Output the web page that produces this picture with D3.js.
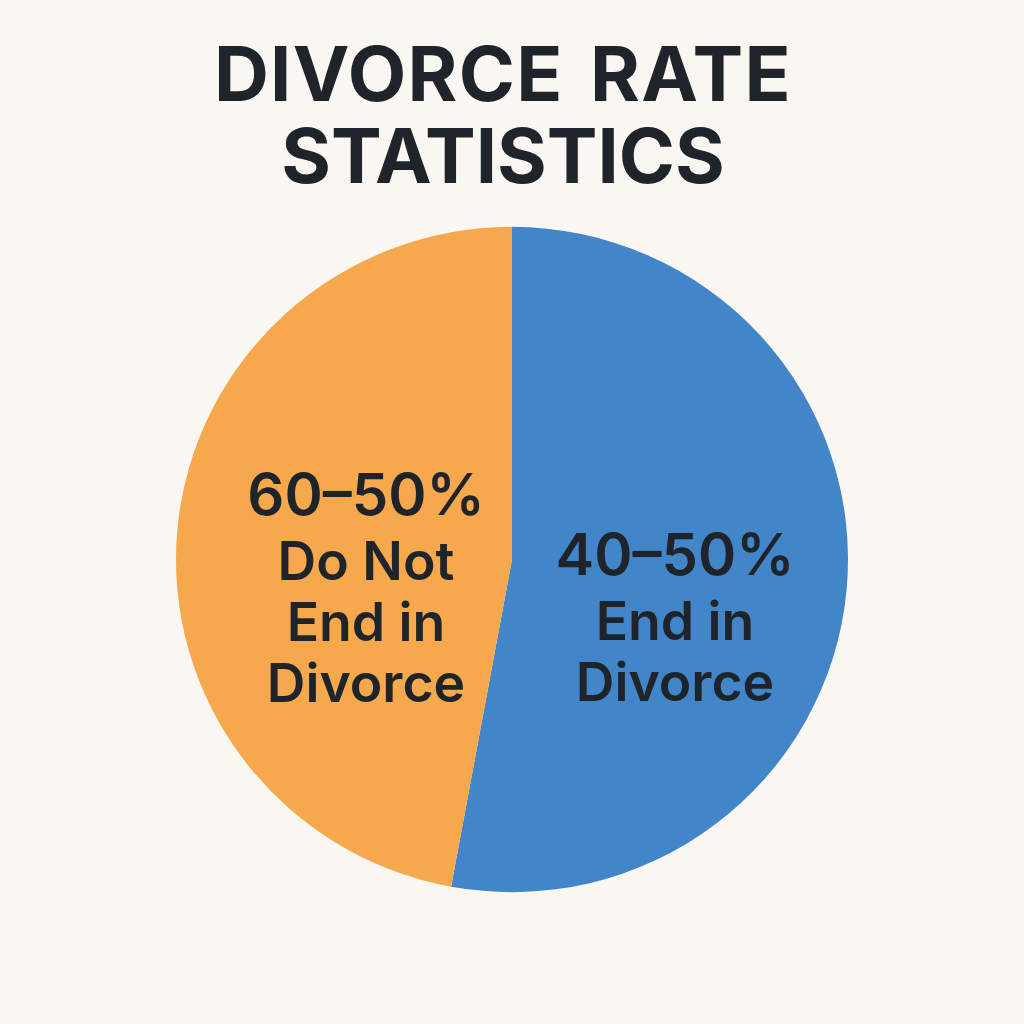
<!DOCTYPE html>
<html>
<head>
<meta charset="utf-8">
<script src="https://cdn.jsdelivr.net/npm/d3@7"></script>
<style>
html, body { margin: 0; padding: 0; background: #faf6f1; }
svg { display: block; }
text { font-family: Inter, "Liberation Sans", sans-serif; fill: #1e2429; text-anchor: middle; }
</style>
</head>
<body>
<script>
// Slice sizes, the labels are what the chart prints
var categories = ["End in Divorce", "Do Not End in Divorce"];
var shares = [52.9, 47.1];
var colours = ["#4286c9", "#f5a94c"];
var percentLabels = ["40–50%", "60–50%"];
var labelLines = [["End in", "Divorce"], ["Do Not", "End in", "Divorce"]];
var titleLines = ["DIVORCE RATE", "STATISTICS"];

var width = 1024,
    height = 1024,
    radius = 336,
    cx = 512,
    cy = 559.5;

var svg = d3.select("body")
    .append("svg")
    .attr("width", width)
    .attr("height", height);

// Title, the first line is set a little wider than the second
svg.append("g")
    .selectAll("text")
    .data(titleLines)
    .enter().append("text")
        .attr("x", 503)
        .attr("y", function(d, i) { return 101 + i * 82; })
        .attr("font-size", 76)
        .attr("font-weight", 700)
        .attr("letter-spacing", function(d, i) { return i == 0 ? 1.3 : 0; })
        .attr("word-spacing", 7)
        .text(function(d) { return d; });

// Pie, first slice starts at twelve o'clock and runs clockwise.
// The drawn circle is a touch flatter than it is wide.
var pie = d3.pie().sort(null);
var arc = d3.arc().innerRadius(0).outerRadius(radius);

var chart = svg.append("g")
    .attr("transform", "translate(" + cx + "," + cy + ") scale(1,0.99)");

chart.selectAll("path")
    .data(pie(shares))
    .enter().append("path")
        .attr("fill", function(d, i) { return colours[i]; })
        .attr("d", arc);

// Labels: percent line first, then the wrapped category
var labelX = [675, 366];
var labelTop = [575, 515];

var labels = svg.selectAll("g.label")
    .data(categories)
    .enter().append("g")
        .attr("class", "label");

labels.append("text")
    .attr("x", function(d, i) { return labelX[i]; })
    .attr("y", function(d, i) { return labelTop[i]; })
    .attr("font-size", 58)
    .attr("font-weight", 600)
    .text(function(d, i) { return percentLabels[i]; });

labels.each(function(d, i) {
    d3.select(this).selectAll("text.sub")
        .data(labelLines[i])
        .enter().append("text")
            .attr("class", "sub")
            .attr("x", labelX[i])
            .attr("y", function(t, j) { return labelTop[i] + 65 + j * 61; })
            .attr("font-size", 53.5)
            .attr("font-weight", 600)
            .text(function(t) { return t; });
});
</script>
</body>
</html>
